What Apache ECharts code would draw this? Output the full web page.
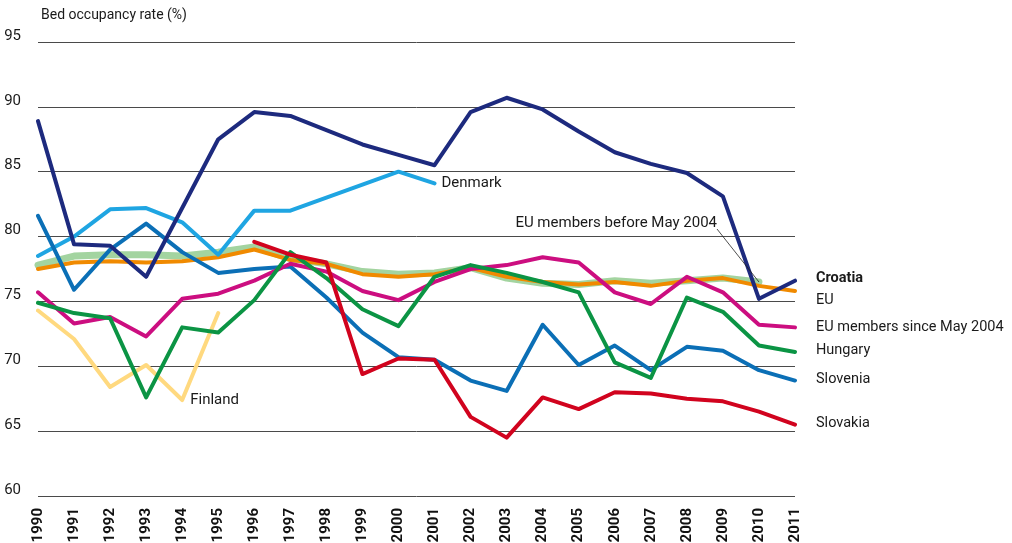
<!DOCTYPE html>
<html>
<head>
<meta charset="utf-8">
<script src="https://cdn.jsdelivr.net/npm/echarts@6/dist/echarts.min.js"></script>
<style>
  html, body { margin: 0; padding: 0; background: #fff; }
  #bed_rate { width: 1012px; height: 543px; }
</style>
</head>
<body>
<div id="bed_rate"></div>
<script>
var years = ['1990','1991','1992','1993','1994','1995','1996','1997','1998','1999','2000',
             '2001','2002','2003','2004','2005','2006','2007','2008','2009','2010','2011'];
var yTicks = [60, 65, 70, 75, 80, 85, 90, 95];

var croatia  = [88.9, 79.4, 79.3, 76.9, 82.2, 87.5, 89.6, 89.3, 88.2, 87.1, 86.3,
                85.5, 89.6, 90.7, 89.8, 88.1, 86.5, 85.6, 84.9, 83.1, 75.2, 76.6];
var denmark  = [78.5, 80.0, 82.1, 82.2, 81.1, 78.6, 82.0, 82.0, 83.0, 84.0, 85.0,
                84.1, null, null, null, null, null, null, null, null, null, null];
var slovenia = [81.6, 75.9, 79.0, 81.0, 78.8, 77.2, 77.5, 77.7, 75.3, 72.6, 70.7,
                70.5, 68.9, 68.1, 73.2, 70.1, 71.6, 69.7, 71.5, 71.2, 69.7, 68.9];
var eu       = [77.5, 78.0, 78.1, 78.0, 78.1, 78.4, 79.0, 78.2, 77.9, 77.1, 76.9,
                77.1, 77.6, 76.9, 76.5, 76.3, 76.5, 76.2, 76.6, 76.8, 76.2, 75.8];
var euBefore = [77.8, 78.5, 78.6, 78.6, 78.5, 78.8, 79.2, 78.3, 77.9, 77.3, 77.1,
                77.2, 77.6, 76.8, 76.4, 76.3, 76.6, 76.4, 76.6, 76.8, 76.5, null];
var euSince  = [75.7, 73.3, 73.8, 72.3, 75.2, 75.6, 76.6, 77.9, 77.3, 75.8, 75.1,
                76.5, 77.5, 77.8, 78.4, 78.0, 75.7, 74.8, 76.9, 75.7, 73.2, 73.0];
var hungary  = [74.9, 74.1, 73.7, 67.6, 73.0, 72.6, 75.1, 78.8, 76.8, 74.4, 73.1,
                76.9, 77.8, 77.2, 76.5, 75.7, 70.3, 69.1, 75.3, 74.2, 71.6, 71.1];
var slovakia = [null, null, null, null, null, null, 79.6, 78.6, 78.0, 69.4, 70.6,
                70.5, 66.1, 64.5, 67.6, 66.7, 68.0, 67.9, 67.5, 67.3, 66.5, 65.5];
var finland  = [74.3, 72.1, 68.4, 70.1, 67.4, 74.1, null, null, null, null, null,
                null, null, null, null, null, null, null, null, null, null, null];

var FONT = 'Roboto, "Liberation Sans", sans-serif';

function lineSeries(name, data, color, width, extra) {
    var s = {
        name: name,
        type: 'line',
        data: data,
        showSymbol: false,
        symbol: 'none',
        silent: true,
        lineStyle: { color: color, width: width || 4, cap: 'round', join: 'round' },
        itemStyle: { color: color }
    };
    for (var k in extra) s[k] = extra[k];
    return s;
}

function endLabel(text, bold, dy) {
    return {
        show: true,
        formatter: text,
        distance: 21,
        offset: [0, dy || 0],
        color: '#1a1a1a',
        fontSize: 14.5,
        fontFamily: FONT,
        fontWeight: bold ? 'bold' : 'normal'
    };
}

var chart = echarts.init(document.getElementById('bed_rate'));

var option = {
    animation: false,
    title: {
        text: 'Bed occupancy rate (%)',
        left: 36,
        top: 3,
        textStyle: { fontSize: 14, fontWeight: 'normal', color: '#1a1a1a', fontFamily: FONT }
    },
    grid: { left: 38, right: 217, top: 42, bottom: 47, containLabel: false, outerBoundsMode: 'none' },
    xAxis: {
        type: 'category',
        data: years,
        boundaryGap: false,
        axisLine: { show: false },
        axisTick: { show: false },
        axisLabel: {
            rotate: 90,
            interval: 0,
            margin: 12,
            color: '#111',
            fontSize: 15,
            fontWeight: 'bold',
            fontFamily: FONT
        }
    },
    yAxis: {
        type: 'value',
        min: yTicks[0],
        max: yTicks[yTicks.length - 1],
        interval: 5,
        axisLine: { show: false },
        axisTick: { show: false },
        axisLabel: {
            margin: 17,
            color: '#1a1a1a',
            fontSize: 15,
            fontFamily: FONT,
            verticalAlign: 'bottom',
            lineHeight: 12
        },
        splitLine: { lineStyle: { color: '#4a4a4a', width: 1 } }
    },
    series: [
        lineSeries('EU members before May 2004', euBefore, '#a3d4a0', 7),
        lineSeries('EU', eu, '#f08a00', 4, { endLabel: endLabel('EU', false, 9) }),
        lineSeries('Finland', finland, '#ffd97f', 4, {
            markPoint: {
                symbol: 'circle',
                symbolSize: 0,
                data: [{ coord: [years[4], finland[4]] }],
                label: {
                    show: true,
                    position: 'right',
                    distance: 8,
                    formatter: 'Finland',
                    color: '#1a1a1a',
                    fontSize: 15,
                    fontFamily: FONT
                }
            }
        }),
        lineSeries('Denmark', denmark, '#1fa5e2', 4, {
            endLabel: { show: true, formatter: 'Denmark', distance: 7, color: '#1a1a1a', fontSize: 15, fontFamily: FONT }
        }),
        lineSeries('Slovenia', slovenia, '#0b6fb6', 4, { endLabel: endLabel('Slovenia', false, -1) }),
        lineSeries('EU members since May 2004', euSince, '#cc0e80', 4, { endLabel: endLabel('EU members since May 2004') }),
        lineSeries('Hungary', hungary, '#0b9444', 4, { endLabel: endLabel('Hungary', false, -2) }),
        lineSeries('Slovakia', slovakia, '#d1031e', 4, { endLabel: endLabel('Slovakia', false, -1) }),
        lineSeries('Croatia', croatia, '#1d2a7e', 4, { endLabel: endLabel('Croatia', true, -2) })
    ]
};

chart.setOption(option);

// leader line + label for "EU members before May 2004"
var anchor = chart.convertToPixel({ seriesIndex: 0 }, [years[20], euBefore[20]]);
chart.setOption({
    graphic: [
        {
            type: 'line',
            shape: { x1: 717, y1: 229, x2: anchor[0], y2: anchor[1] },
            style: { stroke: '#222', lineWidth: 0.8 },
            z: 100
        },
        {
            type: 'text',
            x: 717,
            y: 223,
            style: {
                text: 'EU members before May 2004',
                fill: '#1a1a1a',
                fontSize: 15,
                fontFamily: FONT,
                align: 'right',
                verticalAlign: 'middle'
            },
            z: 100
        }
    ]
});
window.addEventListener('resize', chart.resize);
</script>
</body>
</html>
